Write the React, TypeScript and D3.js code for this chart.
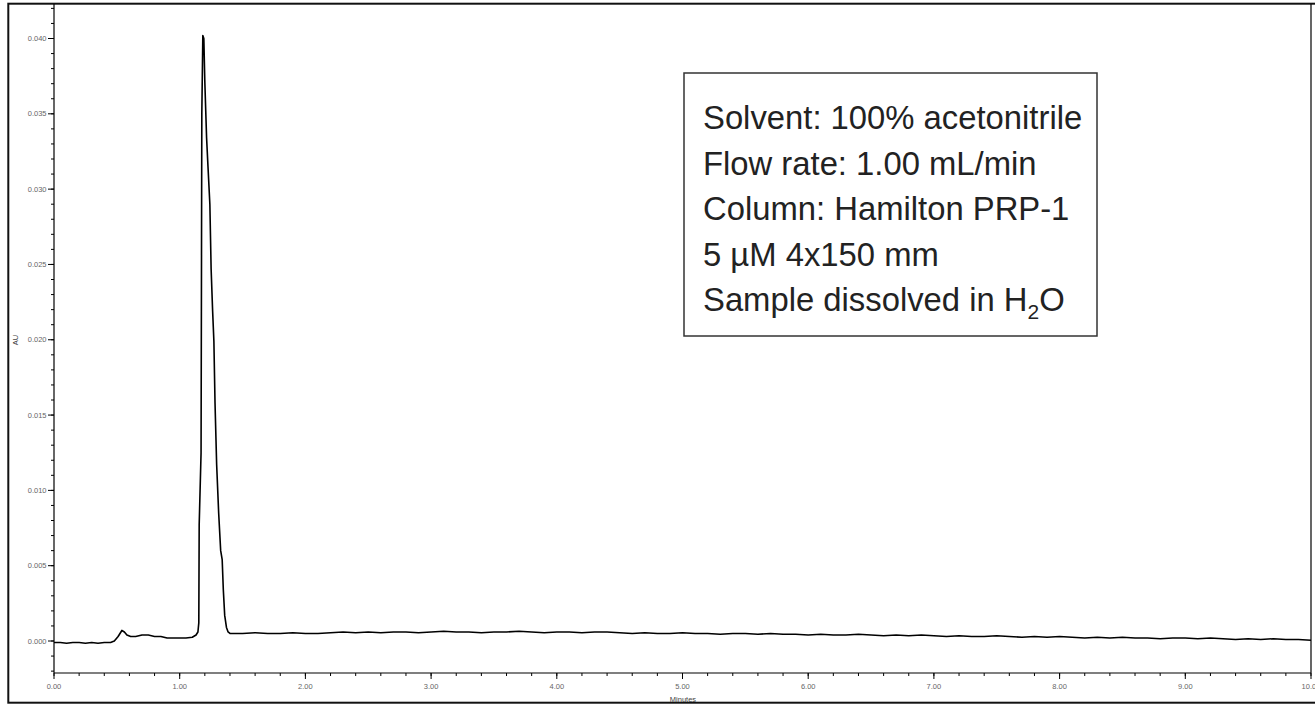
import React from 'react';
import * as d3 from 'd3';

// Early part of the run: baseline, small bump and the main peak (minutes, AU)
const peakTimes = [
  0.0, 0.05, 0.1, 0.15, 0.2, 0.25, 0.3, 0.35, 0.4, 0.45, 0.48, 0.51, 0.54, 0.56, 0.58, 0.61,
  0.65, 0.7, 0.75, 0.8, 0.85, 0.9, 0.95, 1.0, 1.05, 1.1, 1.13, 1.145, 1.152, 1.155, 1.17,
  1.176, 1.184, 1.192, 1.2, 1.214, 1.225, 1.24, 1.25, 1.262, 1.272, 1.281, 1.294, 1.31,
  1.326, 1.338, 1.347, 1.358, 1.372, 1.385, 1.4, 1.45,
];
const peakAU = [
  -0.0001, -0.0001, -0.00015, -0.0001, -0.0001, -0.00015, -0.0001, -0.00015, -0.0001,
  -0.0001, 0.0, 0.0003, 0.0007, 0.0006, 0.0004, 0.0003, 0.0003, 0.0004, 0.0004, 0.0003,
  0.0003, 0.0002, 0.0002, 0.0002, 0.0002, 0.00025, 0.0004, 0.0006, 0.0012, 0.0077, 0.0125,
  0.035, 0.0402, 0.04, 0.0371, 0.0334, 0.0315, 0.029, 0.0247, 0.0219, 0.0199, 0.0158,
  0.0117, 0.0085, 0.006, 0.0054, 0.0034, 0.0017, 0.0009, 0.0006, 0.0005, 0.0005,
];

// Rest of the run, read every 0.1 min from 1.5 to 10.0
const baselineStart = 1.5;
const baselineStep = 0.1;
const baselineAU = [
  0.0005, 0.00055, 0.0005, 0.0005, 0.00055, 0.0005, 0.0005, 0.00055, 0.0006, 0.00055,
  0.0006, 0.00055, 0.0006, 0.0006, 0.00055, 0.0006, 0.00065, 0.0006, 0.0006, 0.00055,
  0.0006, 0.0006, 0.00065, 0.0006, 0.00055, 0.0006, 0.0006, 0.00055, 0.0006, 0.0006,
  0.00055, 0.0005, 0.00055, 0.0005, 0.0005, 0.00055, 0.0005, 0.0005, 0.00045, 0.0005,
  0.0005, 0.00045, 0.0005, 0.00045, 0.00045, 0.0004, 0.00045, 0.0004, 0.0004, 0.00045,
  0.0004, 0.00035, 0.0004, 0.00035, 0.0004, 0.00035, 0.0003, 0.00035, 0.0003, 0.0003,
  0.00035, 0.0003, 0.00025, 0.0003, 0.00025, 0.0003, 0.00025, 0.0002, 0.00025, 0.0002,
  0.00025, 0.0002, 0.0002, 0.00015, 0.0002, 0.0002, 0.00015, 0.0002, 0.00015, 0.0001,
  0.00015, 0.0001, 0.00015, 0.0001, 0.0001, 0.00005,
];

const xTickValues = [0, 1, 2, 3, 4, 5, 6, 7, 8, 9, 10];
const yTickValues = [0, 0.005, 0.01, 0.015, 0.02, 0.025, 0.03, 0.035, 0.04];

const infoLines = [
  'Solvent: 100% acetonitrile',
  'Flow rate: 1.00 mL/min',
  'Column: Hamilton PRP-1',
  '5 µM 4x150 mm',
];

const W = 1315;
const H = 704;
const font = '"Liberation Sans", Arial, sans-serif';

export default function App() {
  const x = d3.scaleLinear().domain([0, 10]).range([54, 1311]);
  const y = d3.scaleLinear().domain([0, 0.04]).range([641, 38.5]);
  const axisY = 673;
  const topY = 4;

  const points: [number, number][] = peakTimes.map((t, i) => [t, peakAU[i]]);
  baselineAU.forEach((v, i) => points.push([baselineStart + i * baselineStep, v]));

  const line = d3
    .line<[number, number]>()
    .x((d) => x(d[0]))
    .y((d) => y(d[1]));

  const xMinor = d3.range(0, 51).map((i) => i * 0.2);
  const yMinor = d3.range(-2, 43).map((i) => i / 1000);
  const fmtX = d3.format('.2f');
  const fmtY = d3.format('.3f');

  return (
    <svg
      width={W}
      height={H}
      style={{ position: 'absolute', left: 0, top: 0, background: '#fff' }}
      fontFamily={font}
    >
      {/* outer frame */}
      <rect x={8.3} y={3.7} width={1320} height={699} fill="none" stroke="#111" strokeWidth={2} />

      {/* axes lines */}
      <line x1={54} x2={54} y1={topY} y2={axisY} stroke="#000" strokeWidth={1.2} />
      <line x1={54} x2={1311} y1={axisY} y2={axisY} stroke="#000" strokeWidth={1.2} />
      <line x1={1311} x2={1311} y1={topY} y2={axisY} stroke="#000" strokeWidth={1.2} />

      {/* y ticks */}
      {yMinor.map((v) => (
        <line key={'ym' + v} x1={51} x2={54} y1={y(v)} y2={y(v)} stroke="#000" strokeWidth={1} />
      ))}
      {yTickValues.map((v) => (
        <g key={'y' + v}>
          <line x1={48} x2={54} y1={y(v)} y2={y(v)} stroke="#000" strokeWidth={1} />
          <text x={46.5} y={y(v)} dy="0.35em" textAnchor="end" fontSize={7.5} fill="#666">
            {fmtY(v)}
          </text>
        </g>
      ))}

      {/* x ticks */}
      {xMinor.map((v) => (
        <line key={'xm' + v} x1={x(v)} x2={x(v)} y1={axisY} y2={axisY + 3} stroke="#000" strokeWidth={1} />
      ))}
      {xTickValues.map((v) => (
        <g key={'x' + v}>
          <line x1={x(v)} x2={x(v)} y1={axisY} y2={axisY + 6} stroke="#000" strokeWidth={1} />
          <text x={x(v)} y={688.5} textAnchor="middle" fontSize={7.5} fill="#666">
            {fmtX(v)}
          </text>
        </g>
      ))}

      {/* axis titles */}
      <text x={683} y={701.5} textAnchor="middle" fontSize={7.5} fill="#444">
        Minutes
      </text>
      <text
        transform="translate(18,340) rotate(-90)"
        textAnchor="middle"
        fontSize={7.5}
        fill="#444"
      >
        AU
      </text>

      {/* trace */}
      <path d={line(points) || ''} fill="none" stroke="#000" strokeWidth={1.6} strokeLinejoin="round" />

      {/* info box */}
      <rect x={684} y={73} width={413} height={263} fill="#fff" stroke="#333" strokeWidth={1.5} />
      {infoLines.map((s, i) => (
        <text key={s} x={703} y={129 + i * 45.5} fontSize={32.8} fill="#222">
          {s}
        </text>
      ))}
      <text x={703} y={129 + 4 * 45.5} fontSize={32.8} fill="#222">
        Sample dissolved in H
        <tspan fontSize={21} dy={8}>2</tspan>
        <tspan dy={-8}>O</tspan>
      </text>
    </svg>
  );
}
